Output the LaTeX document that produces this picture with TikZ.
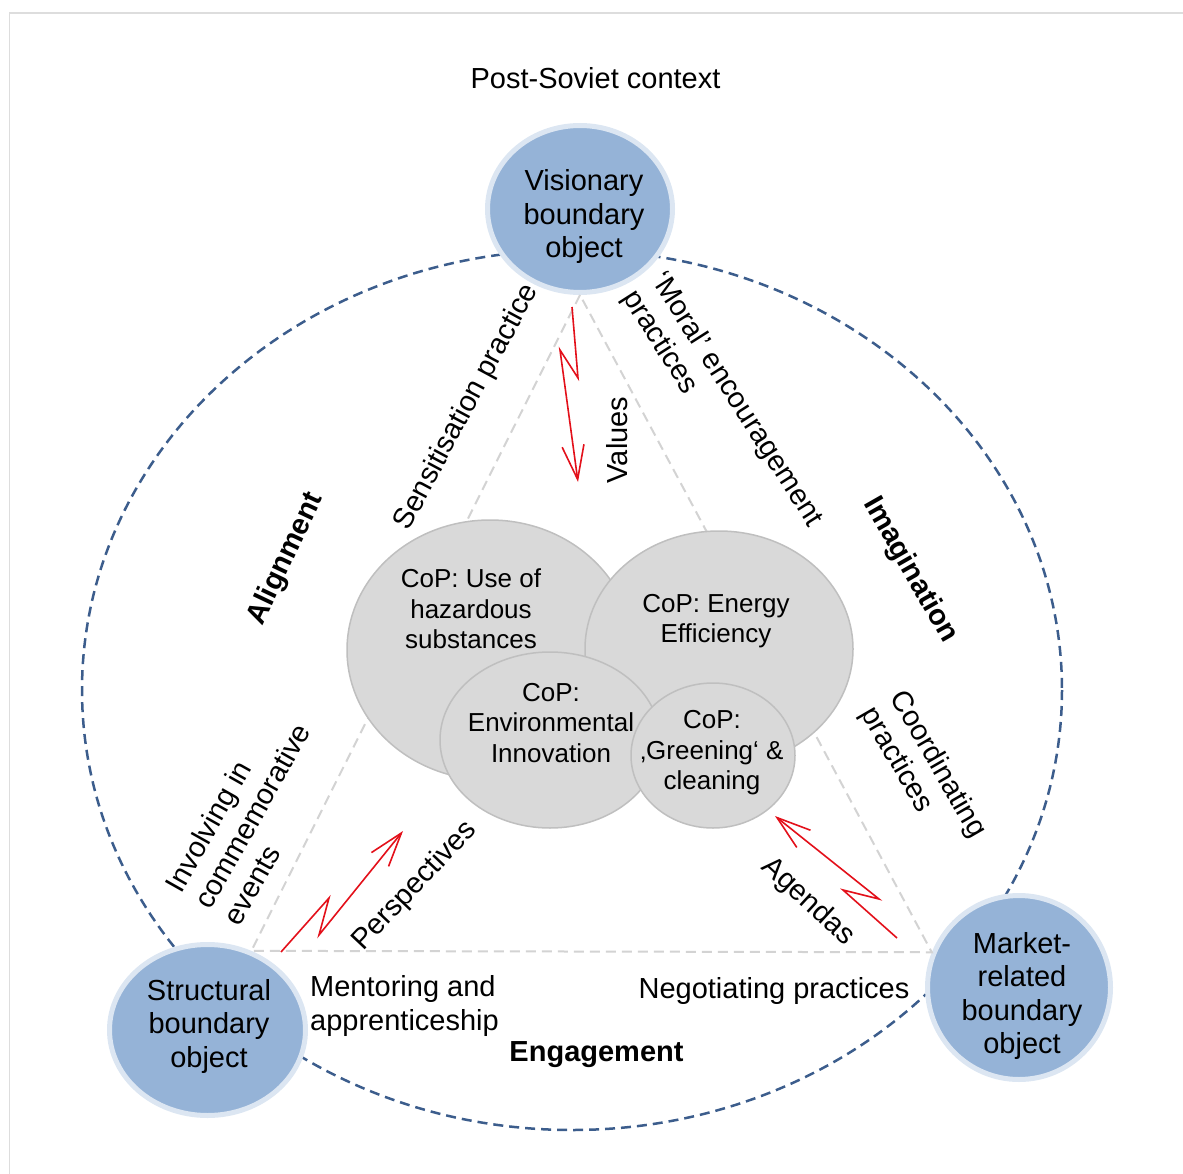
\documentclass[tikz,border=0pt]{standalone}
\usepackage{fontspec}
\setmainfont{Liberation Sans}
\usetikzlibrary{arrows.meta,shapes.geometric}

\definecolor{boblue}{HTML}{95B3D7}
\definecolor{ringblue}{HTML}{DCE6F2}
\definecolor{copgray}{HTML}{D9D9D9}
\definecolor{copedge}{HTML}{BFBFBF}
\definecolor{ctxblue}{HTML}{3C5D8C}
\definecolor{tridash}{HTML}{D3D3D3}
\definecolor{boltred}{HTML}{E3101A}
\definecolor{framegray}{HTML}{DDDDDD}

\begin{document}
\begin{tikzpicture}[x=1pt, y=-1pt,
  every node/.style={font=\fontsize{29}{33.5}\selectfont, inner sep=0pt},
  bobj/.style={ellipse, fill=boblue, draw=ringblue, line width=5pt},
  botext/.style={align=center},
  cop/.style={ellipse, fill=copgray, draw=copedge, line width=1.5pt},
  coptext/.style={font=\fontsize{26}{30.5}\selectfont, align=center},
  mode/.style={font=\fontsize{29}{33.5}\selectfont\bfseries},
  practice/.style={align=left},
  bolt/.style={draw=boltred, line width=1.6pt, -{Straight Barb[length=34pt, width=22pt]}}]

\useasboundingbox (0,0) rectangle (1183,1174);
\draw[framegray, line width=1.5pt] (9.5,1174) -- (9.5,13) -- (1183,13);

% context
\draw[ctxblue, line width=2.5pt, dash pattern=on 10pt off 6pt] (572,690) ellipse [x radius=490, y radius=440];
\node[anchor=base] (ctx) at (595.5,89) {Post-Soviet context};

% boundary objects
\node[bobj, minimum width=185pt, minimum height=167pt] (vbo) at (580,209) {};
\node[bobj, minimum width=196pt, minimum height=171pt] (sbo) at (207.5,1030) {};
\node[bobj, minimum width=183pt, minimum height=184pt] (mbo) at (1019,987.5) {};
\node[botext] (vboT) at (584,217) {Visionary\\boundary\\object};
\node[botext] (sboT) at (209,1026) {Structural\\boundary\\object};
\node[botext] (mboT) at (1022,996) {Market-\\related\\boundary\\object};

\draw[tridash, line width=2pt, dash pattern=on 10pt off 6pt] (vbo.south) -- (sbo.61) -- (mbo.158) -- cycle;

% communities of practice
\node[cop, minimum width=286pt, minimum height=260pt] (haz) at (490,650) {};
\node[cop, minimum width=268pt, minimum height=236pt] (energy) at (719,649) {};
\node[cop, minimum width=220pt, minimum height=176pt] (envir) at (550,740) {};
\node[cop, minimum width=164pt, minimum height=145pt] (green) at (713,755.5) {};
\node[coptext] (hazT) at (471,609) {CoP: Use of\\hazardous\\substances};
\node[coptext] (energyT) at (716,621) {CoP: Energy\\Efficiency};
\node[coptext] (envirT) at (551,723) {CoP:\\Environmental\\Innovation};
\node[coptext] (greenT) at (712,753) {CoP:\\‚Greening‘ \&\\cleaning};

% modes of belonging
\node[mode, rotate=64.6] (align) at (286,559) {Alignment};
\node[mode, rotate=-60.3] (imag) at (910,570) {Imagination};
\node[mode, anchor=base] (engage) at (596.5,1061) {Engagement};

% practices
\node[rotate=61.8] (sens) at (467,407) {Sensitisation practice};
\node[practice, rotate=-57.5] (moral) at (722,409) {‘Moral’ encouragement\\practices};
\node[practice, rotate=-60] (coord) at (923,773) {Coordinating\\practices};
\node[practice, rotate=60.6] (involve) at (252,816) {Involving in\\commemorative\\events};
\node[practice, anchor=west] (mentor) at (310,1006) {Mentoring and\\apprenticeship};
\node[anchor=base] (negot) at (774,998) {Negotiating practices};

% flows
\node[rotate=90] (values) at (617,440) {Values};
\node[rotate=46.6] (persp) at (415,886) {Perspectives};
\node[rotate=-42.6] (agendas) at (808,902) {Agendas};

\coordinate (valS) at (572,307);
\coordinate (valE) at (578,482);
\coordinate (perS) at (281,952);
\coordinate (perE) at (403,831);
\coordinate (agS) at (897,938);
\coordinate (agE) at (775,816);
\draw[bolt] (valS) -- (578,378) -- (560,350) -- (valE);
\draw[bolt] (perS) -- (329,898) -- (319,935) -- (perE);
\draw[bolt] (agS) -- (843,890) -- (879,899) -- (agE);
\end{tikzpicture}
\end{document}
